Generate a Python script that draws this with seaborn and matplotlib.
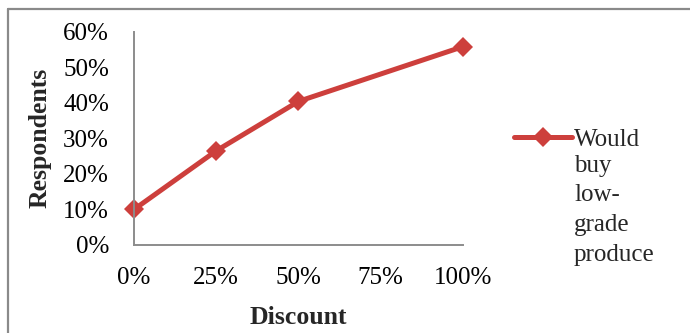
import matplotlib
matplotlib.use("Agg")
import matplotlib.pyplot as plt
from matplotlib.lines import Line2D
import seaborn as sns
import pandas as pd

# Share of respondents who would buy low-grade produce at each discount level
discount = [0, 25, 50, 100]
respondents = [10.0, 26.5, 40.4, 55.8]
series_lines = ["Would", "buy", "low-", "grade", "produce"]
x_ticks = [0, 25, 50, 75, 100]
y_ticks = [0, 10, 20, 30, 40, 50, 60]

series_name = " ".join(series_lines)
df = pd.DataFrame({"Discount": discount, "Respondents": respondents, "series": series_name})

sns.set_theme(style="white")
plt.rcParams["font.family"] = ["Liberation Serif", "DejaVu Serif"]

red = "#CD3F3C"
axis_gray = "#8C8C8C"
fs = 18

fig = plt.figure(figsize=(6.9, 3.33), dpi=100)
ax = fig.add_axes([0.1942, 0.2643, 0.4768, 0.6405])

sns.lineplot(data=df, x="Discount", y="Respondents", hue="series",
             palette=[red], marker="D", markersize=10, markeredgewidth=0,
             linewidth=3.6, ax=ax, legend=False, clip_on=False)

ax.set_xlim(0, 100)
ax.set_ylim(0, 60)
ax.set_xticks(x_ticks)
ax.set_xticklabels([f"{v}%" for v in x_ticks])
ax.set_yticks(y_ticks)
ax.set_yticklabels([f"{v}%" for v in y_ticks])
ax.tick_params(axis="both", length=0, labelsize=fs, colors="black")
ax.tick_params(axis="y", pad=18)
ax.tick_params(axis="x", pad=16)

for side in ("top", "right"):
    ax.spines[side].set_visible(False)
for side in ("left", "bottom"):
    ax.spines[side].set_color(axis_gray)
    ax.spines[side].set_linewidth(1.4)

ax.set_xlabel("Discount", fontsize=fs + 0.5, fontweight="bold", labelpad=12)
ax.set_ylabel("Respondents", fontsize=fs + 0.5, fontweight="bold", labelpad=8)

# legend: handle beside the first word, the rest of the name wraps beneath it
handle = Line2D([], [], color=red, linewidth=3.6, marker="D", markersize=10,
                markeredgewidth=0)
leg = fig.legend([handle], [series_lines[0]], loc="upper left",
                 bbox_to_anchor=(0.745, 0.615), frameon=False, fontsize=fs,
                 handlelength=2.3, handletextpad=0.1, borderpad=0.0,
                 borderaxespad=0.0)
fig.canvas.draw()
first = leg.get_texts()[0]
bb = first.get_window_extent().transformed(fig.transFigure.inverted())
fig.text(bb.x0, bb.y0 - 0.012, "\n".join(series_lines[1:]), fontsize=fs,
         ha="left", va="top", linespacing=1.45)

# chart frame (top and left edges visible)
fig.add_artist(Line2D([8 / 690, 8 / 690], [0, 1 - 8.5 / 333], transform=fig.transFigure,
                      color="#8A8A8A", linewidth=1.6))
fig.add_artist(Line2D([8 / 690, 1], [1 - 8.5 / 333, 1 - 8.5 / 333], transform=fig.transFigure,
                      color="#8A8A8A", linewidth=1.6))

fig.savefig("out.png", dpi=100, facecolor="white")
